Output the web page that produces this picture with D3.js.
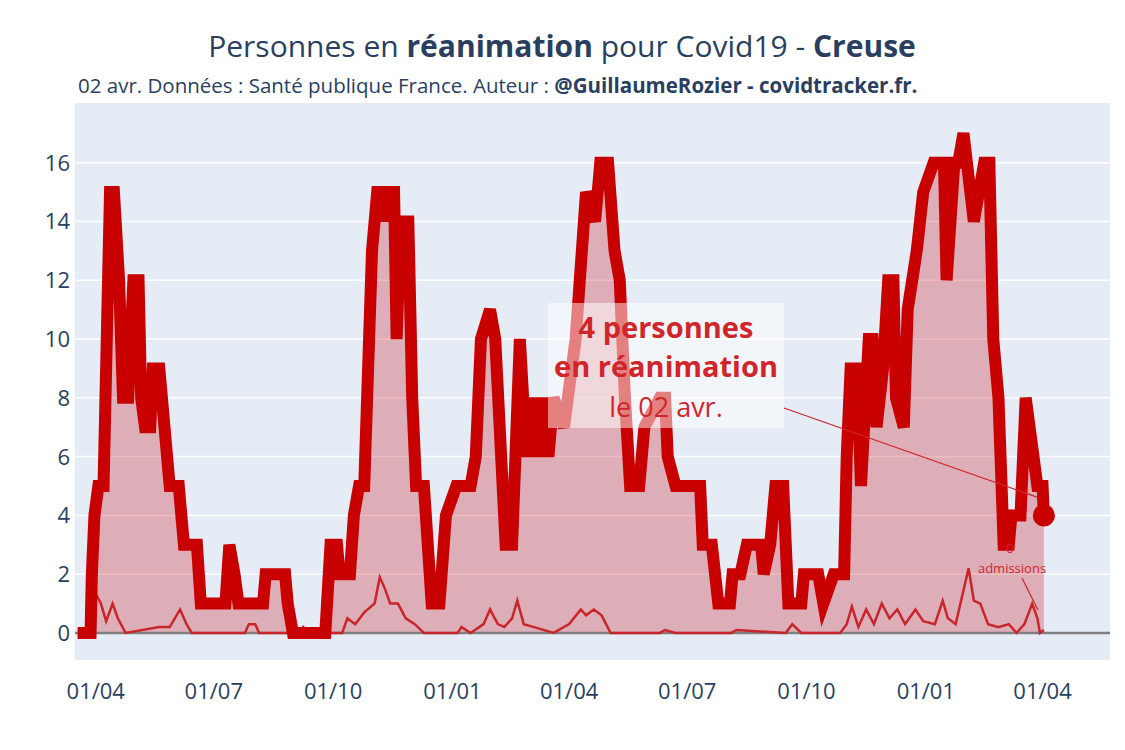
<!DOCTYPE html>
<html><head><meta charset="utf-8">
<script src="https://cdn.jsdelivr.net/npm/d3@7"></script>
<style>body{margin:0;background:#fff;font-family:"Open Sans",sans-serif}</style>
</head><body><svg id="c" width="1125" height="750"></svg>
<script>
const reaDates=["2020-03-18","2020-03-28","2020-03-29","2020-03-31","2020-04-03","2020-04-07","2020-04-12","2020-04-15","2020-04-19","2020-04-22","2020-04-26","2020-04-30","2020-05-04","2020-05-06","2020-05-09","2020-05-13","2020-05-15","2020-05-20","2020-05-24","2020-05-28","2020-06-04","2020-06-08","2020-06-18","2020-06-21","2020-07-10","2020-07-13","2020-07-17","2020-07-20","2020-08-08","2020-08-10","2020-08-25","2020-08-27","2020-08-31","2020-09-25","2020-09-29","2020-10-04","2020-10-06","2020-10-14","2020-10-17","2020-10-21","2020-10-25","2020-10-28","2020-10-31","2020-11-04","2020-11-08","2020-11-10","2020-11-12","2020-11-17","2020-11-19","2020-11-22","2020-11-28","2020-12-01","2020-12-04","2020-12-10","2020-12-13","2020-12-16","2020-12-22","2020-12-27","2021-01-04","2021-01-15","2021-01-19","2021-01-23","2021-01-30","2021-02-03","2021-02-11","2021-02-16","2021-02-22","2021-02-27","2021-03-03","2021-03-08","2021-03-12","2021-03-16","2021-03-20","2021-03-28","2021-04-06","2021-04-14","2021-04-21","2021-04-25","2021-05-01","2021-05-06","2021-05-10","2021-05-14","2021-05-18","2021-05-25","2021-05-29","2021-06-10","2021-06-14","2021-06-16","2021-06-22","2021-07-11","2021-07-13","2021-07-20","2021-07-25","2021-08-03","2021-08-05","2021-08-11","2021-08-16","2021-08-27","2021-08-29","2021-09-03","2021-09-07","2021-09-13","2021-09-17","2021-09-27","2021-09-29","2021-10-10","2021-10-14","2021-10-22","2021-10-30","2021-11-01","2021-11-04","2021-11-09","2021-11-12","2021-11-18","2021-11-21","2021-11-24","2021-11-29","2021-12-03","2021-12-07","2021-12-09","2021-12-15","2021-12-18","2021-12-25","2021-12-30","2022-01-07","2022-01-15","2022-01-17","2022-01-23","2022-01-26","2022-01-30","2022-02-07","2022-02-15","2022-02-19","2022-02-22","2022-02-26","2022-03-02","2022-03-06","2022-03-08","2022-03-15","2022-03-19","2022-03-22","2022-03-25","2022-03-28","2022-04-01","2022-04-02"];
const reaValues=[0,0,2,4,5,5,15,15,12,8,8,12,12,8,7,7,9,9,7,5,5,3,3,1,1,3,2,1,1,2,2,1,0,0,3,3,2,2,4,5,5,9,13,15,15,14,15,15,10,14,14,8,5,5,3,1,1,4,5,5,6,10,11,10,3,3,10,6,8,6,8,6,8,7,10,15,14,16,16,13,12,8,5,5,7,8,8,6,5,5,3,3,1,1,2,2,3,3,2,3,5,5,1,1,2,2,1,2,2,6,9,9,5,10,10,7,9,12,12,8,7,11,13,15,16,16,12,16,16,17,14,16,16,10,8,3,3,4,4,8,7,6,5,5,4];
const admDates=["2020-03-25","2020-03-30","2020-04-05","2020-04-09","2020-04-14","2020-04-18","2020-04-24","2020-05-20","2020-05-28","2020-06-05","2020-06-10","2020-06-14","2020-07-25","2020-07-28","2020-08-02","2020-08-05","2020-09-05","2020-09-08","2020-09-12","2020-10-08","2020-10-12","2020-10-18","2020-10-25","2020-11-02","2020-11-06","2020-11-10","2020-11-14","2020-11-20","2020-11-26","2020-12-03","2020-12-10","2021-01-05","2021-01-08","2021-01-15","2021-01-25","2021-01-30","2021-02-05","2021-02-10","2021-02-16","2021-02-20","2021-02-25","2021-03-05","2021-03-20","2021-04-01","2021-04-10","2021-04-14","2021-04-20","2021-04-26","2021-05-03","2021-06-10","2021-06-14","2021-06-22","2021-08-04","2021-08-08","2021-09-15","2021-09-20","2021-09-27","2021-10-27","2021-11-01","2021-11-05","2021-11-10","2021-11-16","2021-11-22","2021-11-28","2021-12-04","2021-12-10","2021-12-16","2021-12-24","2021-12-30","2022-01-08","2022-01-14","2022-01-18","2022-01-24","2022-02-03","2022-02-07","2022-02-12","2022-02-18","2022-02-26","2022-03-06","2022-03-12","2022-03-18","2022-03-24","2022-03-28","2022-03-30","2022-04-02"];
const admValues=[0,1.5,1.0,0.4,1.0,0.5,0,0.2,0.2,0.8,0.3,0,0,0.3,0.3,0,0,0.2,0,0,0.5,0.3,0.7,1.0,1.9,1.5,1.0,1.0,0.5,0.3,0,0,0.2,0,0.3,0.8,0.3,0.2,0.5,1.1,0.3,0.2,0,0.3,0.8,0.6,0.8,0.6,0,0,0.1,0,0,0.1,0,0.3,0,0,0.3,0.9,0.2,0.8,0.3,1.0,0.5,0.8,0.3,0.8,0.4,0.3,1.1,0.5,0.3,2.2,1.1,1.0,0.3,0.2,0.3,0,0.3,1.0,0.5,0,0.1];
const yTicks=[0,2,4,6,8,10,12,14,16];
const xTickDates=["2020-04-01","2020-07-01","2020-10-01","2021-01-01","2021-04-01","2021-07-01","2021-10-01","2022-01-01","2022-04-01"];

const P=d3.timeParse("%Y-%m-%d");
const rea=reaDates.map((d,i)=>({d:P(d),v:reaValues[i]}));
const adm=admDates.map((d,i)=>({d:P(d),v:admValues[i]}));
const svg=d3.select("#c");
const L=75,R=1110,T=103,B=660;
const x=d3.scaleTime().domain([P("2020-03-16"),P("2022-05-23")]).range([L,R]);
const y=d3.scaleLinear().domain([-0.92,18.03]).range([B,T]);
svg.append("rect").attr("x",L).attr("y",T).attr("width",R-L).attr("height",B-T).attr("fill","#e5ecf6");
svg.append("g").selectAll("line").data(yTicks).join("line").attr("x1",L).attr("x2",R).attr("y1",d=>y(d)).attr("y2",d=>y(d)).attr("stroke","#fff").attr("stroke-width",1.5);
const g=svg.append("g");
g.append("path").datum(rea).attr("d",d3.area().x(d=>x(d.d)).y0(y(0)).y1(d=>y(d.v))).attr("fill","rgba(205,30,40,0.3)");
g.append("line").attr("x1",L).attr("x2",R).attr("y1",y(0)).attr("y2",y(0)).attr("stroke","#7f7f7f").attr("stroke-width",2.5);
g.append("path").datum(adm).attr("d",d3.line().x(d=>x(d.d)).y(d=>y(d.v))).attr("fill","none").attr("stroke","#c8262a").attr("stroke-width",2.5);
g.append("path").datum(rea).attr("d",d3.line().x(d=>x(d.d)).y(d=>y(d.v))).attr("fill","none").attr("stroke","#c80000").attr("stroke-width",12).attr("stroke-linejoin","miter");
const last=rea[rea.length-1];
g.append("circle").attr("cx",x(last.d)).attr("cy",y(last.v)).attr("r",11).attr("fill","#c80000");
svg.append("g").selectAll("text").data(yTicks).join("text").attr("x",70).attr("y",d=>y(d)+8).attr("text-anchor","end").attr("font-size",22).attr("fill","#2a3f5f").text(d=>d);
svg.append("g").selectAll("text").data(xTickDates).join("text").attr("x",d=>x(P(d))).attr("y",699).attr("text-anchor","middle").attr("font-size",22).attr("fill","#2a3f5f").text(d=>d3.timeFormat("%d/%m")(P(d)));
const ac="#d0262b";
svg.append("line").attr("x1",784).attr("y1",408).attr("x2",x(last.d)-6).attr("y2",y(last.v)-18).attr("stroke",ac).attr("stroke-width",1.3);
svg.append("rect").attr("x",548).attr("y",303).attr("width",236).attr("height",125).attr("fill","rgba(255,255,255,0.5)");
svg.append("text").attr("x",666).attr("y",338).attr("text-anchor","middle").attr("font-size",29).attr("font-weight","bold").attr("fill",ac).text("4 personnes");
svg.append("text").attr("x",666).attr("y",377).attr("text-anchor","middle").attr("font-size",29).attr("font-weight","bold").attr("fill",ac).text("en réanimation");
svg.append("text").attr("x",666).attr("y",417).attr("text-anchor","middle").attr("font-size",27).attr("fill",ac).text("le 02 avr.");
svg.append("text").attr("x",1010).attr("y",553).attr("text-anchor","middle").attr("font-size",13).attr("fill",ac).text("0");
svg.append("text").attr("x",1012).attr("y",573).attr("text-anchor","middle").attr("font-size",13).attr("fill",ac).text("admissions");
svg.append("line").attr("x1",1022).attr("y1",578).attr("x2",1038).attr("y2",610).attr("stroke",ac).attr("stroke-width",1.3);
const t=svg.append("text").attr("x",562).attr("y",57).attr("text-anchor","middle").attr("font-size",30).attr("fill","#2a3f5f");
t.append("tspan").text("Personnes en ");t.append("tspan").attr("font-weight","bold").text("réanimation");
t.append("tspan").text(" pour Covid19 - ");t.append("tspan").attr("font-weight","bold").text("Creuse");
const s=svg.append("text").attr("x",78).attr("y",93).attr("font-size",20.5).attr("fill","#2a3f5f");
s.append("tspan").text("02 avr. Données : Santé publique France. Auteur : ");
s.append("tspan").attr("font-weight","bold").text("@GuillaumeRozier - covidtracker.fr.");
</script></body></html>
